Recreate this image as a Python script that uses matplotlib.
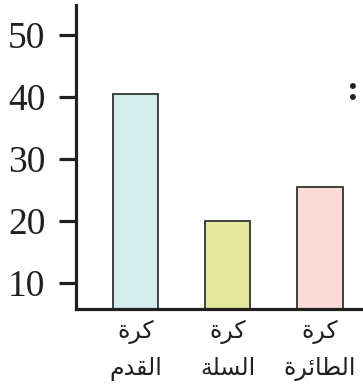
import matplotlib
matplotlib.use("Agg")
import matplotlib.pyplot as plt
import numpy as np

# Arabic written in presentation forms, visual order, since matplotlib does no shaping
sports = [
    "\uFE93\uFEAE\uFEDB\n\uFEE1\uFEAA\uFED8\uFEDF\uFE8D",          # كرة القدم
    "\uFE93\uFEAE\uFEDB\n\uFE94\uFEE0\uFEB4\uFEDF\uFE8D",          # كرة السلة
    "\uFE93\uFEAE\uFEDB\n\uFE93\uFEAE\uFE8B\uFE8E\uFEC4\uFEDF\uFE8D",  # كرة الطائرة
]
values = [40.5, 20, 25.5]
colors = ["#d3ecec", "#e2e89c", "#fcdad6"]
yticks = [10, 20, 30, 40, 50]

fig = plt.figure(figsize=(3.63, 3.92), dpi=100)
ax = fig.add_axes([76 / 363, 83 / 392, 1 - 76 / 363, (387 - 83) / 392])

x = np.arange(len(values))
ax.bar(x, values, width=0.49, color=colors, edgecolor="#333333", linewidth=1.3, zorder=2)

ax.set_xlim(-0.647, 2.467)
ax.set_ylim(5.8, 54.8)

for s in ["top", "right"]:
    ax.spines[s].set_visible(False)
for s in ["left", "bottom"]:
    ax.spines[s].set_linewidth(2.3)
    ax.spines[s].set_color("#231f20")

ax.set_yticks(yticks)
ax.set_yticklabels([str(v) for v in yticks], fontfamily="Liberation Serif", fontsize=27, color="#231f20")
ax.tick_params(axis="y", direction="out", length=12, width=2.3, pad=10, color="#231f20")

ax.set_xticks(x)
ax.set_xticklabels(sports, fontfamily="DejaVu Sans", fontsize=17, color="#231f20", linespacing=1.6)
ax.tick_params(axis="x", length=0, pad=8)

fig.text(353 / 363, 1 - 91 / 392, ":", fontfamily="Liberation Serif", fontsize=26,
         fontweight="bold", ha="center", va="center", color="#231f20")

fig.savefig("out.png", dpi=100)
